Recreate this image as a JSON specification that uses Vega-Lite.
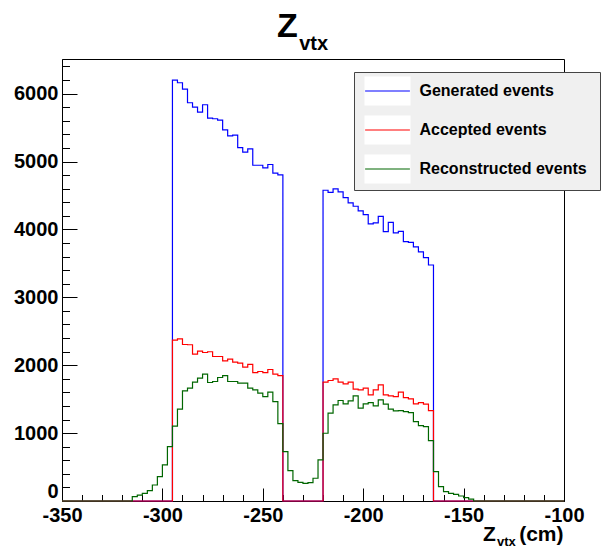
{
  "$schema": "https://vega.github.io/schema/vega-lite/v6.json",
  "width": 502,
  "height": 442,
  "autosize": {"type": "none"},
  "padding": {"left": 62, "top": 59, "right": 41, "bottom": 46},
  "background": "white",
  "title": {
    "text": "Z",
    "subtitle": "\u200b\u00a0\u00a0\u00a0\u00a0vtx",
    "anchor": "start",
    "frame": "group",
    "dx": 215,
    "offset": 5,
    "font": "Liberation Sans",
    "fontSize": 34,
    "fontWeight": "bold",
    "color": "black",
    "subtitleFont": "Liberation Sans",
    "subtitleFontSize": 20,
    "subtitleFontWeight": "bold",
    "subtitleColor": "black",
    "subtitlePadding": -10
  },
  "data": {
    "values": [
      {"x": -350, "g": 0, "a": 0, "r": 0},
      {"x": -347.5, "g": 0, "a": 0, "r": 0},
      {"x": -345, "g": 0, "a": 0, "r": 0},
      {"x": -342.5, "g": 0, "a": 0, "r": 0},
      {"x": -340, "g": 0, "a": 0, "r": 0},
      {"x": -337.5, "g": 0, "a": 0, "r": 0},
      {"x": -335, "g": 0, "a": 0, "r": 0},
      {"x": -332.5, "g": 0, "a": 0, "r": 0},
      {"x": -330, "g": 0, "a": 0, "r": 0},
      {"x": -327.5, "g": 0, "a": 0, "r": 0},
      {"x": -325, "g": 0, "a": 0, "r": 0},
      {"x": -322.5, "g": 0, "a": 0, "r": 0},
      {"x": -320, "g": 0, "a": 0, "r": 0},
      {"x": -317.5, "g": 0, "a": 0, "r": 0},
      {"x": -315, "g": 0, "a": 0, "r": 63},
      {"x": -312.5, "g": 0, "a": 0, "r": 88},
      {"x": -310, "g": 0, "a": 0, "r": 113},
      {"x": -307.5, "g": 0, "a": 0, "r": 152},
      {"x": -305, "g": 0, "a": 0, "r": 236},
      {"x": -302.5, "g": 0, "a": 0, "r": 359},
      {"x": -300, "g": 0, "a": 0, "r": 531},
      {"x": -297.5, "g": 0, "a": 0, "r": 801},
      {"x": -295, "g": 6199, "a": 2370, "r": 1102},
      {"x": -292.5, "g": 6160, "a": 2389, "r": 1352},
      {"x": -290, "g": 6066, "a": 2305, "r": 1622},
      {"x": -287.5, "g": 5866, "a": 2301, "r": 1662},
      {"x": -285, "g": 5801, "a": 2163, "r": 1751},
      {"x": -282.5, "g": 5727, "a": 2208, "r": 1810},
      {"x": -280, "g": 5836, "a": 2187, "r": 1869},
      {"x": -277.5, "g": 5639, "a": 2198, "r": 1745},
      {"x": -275, "g": 5630, "a": 2128, "r": 1760},
      {"x": -272.5, "g": 5609, "a": 2128, "r": 1819},
      {"x": -270, "g": 5467, "a": 2065, "r": 1848},
      {"x": -267.5, "g": 5379, "a": 2090, "r": 1760},
      {"x": -265, "g": 5388, "a": 2046, "r": 1760},
      {"x": -262.5, "g": 5206, "a": 2031, "r": 1736},
      {"x": -260, "g": 5137, "a": 1972, "r": 1736},
      {"x": -257.5, "g": 5187, "a": 2011, "r": 1662},
      {"x": -255, "g": 4945, "a": 1892, "r": 1637},
      {"x": -252.5, "g": 4945, "a": 1907, "r": 1588},
      {"x": -250, "g": 4907, "a": 1892, "r": 1538},
      {"x": -247.5, "g": 4956, "a": 1937, "r": 1603},
      {"x": -245, "g": 4828, "a": 1869, "r": 1465},
      {"x": -242.5, "g": 4804, "a": 1848, "r": 1140},
      {"x": -240, "g": 0, "a": 0, "r": 727},
      {"x": -237.5, "g": 0, "a": 0, "r": 447},
      {"x": -235, "g": 0, "a": 0, "r": 299},
      {"x": -232.5, "g": 0, "a": 0, "r": 275},
      {"x": -230, "g": 0, "a": 0, "r": 261},
      {"x": -227.5, "g": 0, "a": 0, "r": 270},
      {"x": -225, "g": 0, "a": 0, "r": 335},
      {"x": -222.5, "g": 0, "a": 0, "r": 605},
      {"x": -220, "g": 4577, "a": 1751, "r": 998},
      {"x": -217.5, "g": 4547, "a": 1775, "r": 1293},
      {"x": -215, "g": 4597, "a": 1800, "r": 1416},
      {"x": -212.5, "g": 4553, "a": 1751, "r": 1480},
      {"x": -210, "g": 4469, "a": 1726, "r": 1431},
      {"x": -207.5, "g": 4391, "a": 1751, "r": 1475},
      {"x": -205, "g": 4341, "a": 1647, "r": 1549},
      {"x": -202.5, "g": 4273, "a": 1637, "r": 1367},
      {"x": -200, "g": 4218, "a": 1662, "r": 1431},
      {"x": -197.5, "g": 4081, "a": 1563, "r": 1450},
      {"x": -195, "g": 4096, "a": 1637, "r": 1401},
      {"x": -192.5, "g": 4193, "a": 1711, "r": 1490},
      {"x": -190, "g": 3968, "a": 1563, "r": 1426},
      {"x": -187.5, "g": 4105, "a": 1549, "r": 1352},
      {"x": -185, "g": 3948, "a": 1538, "r": 1327},
      {"x": -182.5, "g": 3972, "a": 1603, "r": 1332},
      {"x": -180, "g": 3820, "a": 1524, "r": 1317},
      {"x": -177.5, "g": 3810, "a": 1504, "r": 1303},
      {"x": -175, "g": 3742, "a": 1431, "r": 1170},
      {"x": -172.5, "g": 3668, "a": 1450, "r": 1111},
      {"x": -170, "g": 3584, "a": 1426, "r": 1096},
      {"x": -167.5, "g": 3476, "a": 1332, "r": 889},
      {"x": -165, "g": 0, "a": 0, "r": 432},
      {"x": -162.5, "g": 0, "a": 0, "r": 211},
      {"x": -160, "g": 0, "a": 0, "r": 137},
      {"x": -157.5, "g": 0, "a": 0, "r": 113},
      {"x": -155, "g": 0, "a": 0, "r": 98},
      {"x": -152.5, "g": 0, "a": 0, "r": 74},
      {"x": -150, "g": 0, "a": 0, "r": 49},
      {"x": -147.5, "g": 0, "a": 0, "r": 29},
      {"x": -145, "g": 0, "a": 0, "r": 0},
      {"x": -142.5, "g": 0, "a": 0, "r": 0},
      {"x": -140, "g": 0, "a": 0, "r": 0},
      {"x": -137.5, "g": 0, "a": 0, "r": 0},
      {"x": -135, "g": 0, "a": 0, "r": 0},
      {"x": -132.5, "g": 0, "a": 0, "r": 0},
      {"x": -130, "g": 0, "a": 0, "r": 0},
      {"x": -127.5, "g": 0, "a": 0, "r": 0},
      {"x": -125, "g": 0, "a": 0, "r": 0},
      {"x": -122.5, "g": 0, "a": 0, "r": 0},
      {"x": -120, "g": 0, "a": 0, "r": 0},
      {"x": -117.5, "g": 0, "a": 0, "r": 0},
      {"x": -115, "g": 0, "a": 0, "r": 0},
      {"x": -112.5, "g": 0, "a": 0, "r": 0},
      {"x": -110, "g": 0, "a": 0, "r": 0},
      {"x": -107.5, "g": 0, "a": 0, "r": 0},
      {"x": -105, "g": 0, "a": 0, "r": 0},
      {"x": -102.5, "g": 0, "a": 0, "r": 0},
      {"x": -100, "g": 0, "a": 0, "r": 0}
    ]
  },
  "transform": [{"fold": ["g", "a", "r"], "as": ["s", "n"]}],
  "resolve": {"axis": {"x": "independent", "y": "independent"}},
  "layer": [
    {
      "mark": {"type": "point", "filled": true, "opacity": 0},
      "encoding": {
        "x": {
          "field": "x", "type": "quantitative",
          "scale": {"domain": [-350, -100], "nice": false, "zero": false},
          "axis": {
            "orient": "bottom",
            "values": [-340, -330, -320, -310, -290, -280, -270, -260, -240, -230, -220, -210, -190, -180, -170, -160, -140, -130, -120, -110],
            "tickSize": -6.5, "tickColor": "black", "tickWidth": 1,
            "labels": false, "domain": false, "grid": false,
            "title": "vtx",
            "titleFont": "Liberation Sans", "titleFontWeight": "bold", "titleFontSize": 13, "titleColor": "black",
            "titleAlign": "left", "titleBaseline": "alphabetic", "titleAngle": 0,
            "titleX": 434.5, "titleY": 44
          }
        },
        "y": {
          "field": "n", "type": "quantitative",
          "scale": {"domain": [0, 6510], "nice": false},
          "axis": {
            "orient": "left",
            "values": [200, 400, 600, 800, 1200, 1400, 1600, 1800, 2200, 2400, 2600, 2800, 3200, 3400, 3600, 3800, 4200, 4400, 4600, 4800, 5200, 5400, 5600, 5800, 6200, 6400],
            "tickSize": -7.5, "tickColor": "black", "tickWidth": 1,
            "labels": false, "domain": false, "grid": false, "title": null
          }
        },
        "color": {
          "field": "s", "type": "nominal",
          "scale": {"domain": ["g", "a", "r"], "range": ["white", "white", "white"]},
          "legend": {
            "orient": "none", "legendX": 292, "legendY": 13,
            "title": null, "padding": 4,
            "fillColor": "#f0f0f0", "strokeColor": "#444444",
            "symbolType": "M-1.6,-1H1.6V1H-1.6Z", "symbolSize": 784,
            "symbolOffset": 14.5, "symbolOpacity": 1, "symbolFillColor": "white",
            "symbolStrokeColor": "white", "symbolStrokeWidth": 1.2,
            "rowPadding": 5, "labelOffset": 17, "labelLimit": 400,
            "labelFont": "Liberation Sans", "labelFontWeight": "bold", "labelFontSize": 16, "labelColor": "black",
            "labelExpr": "(datum.label == 'g' ? 'Generated events' : datum.label == 'a' ? 'Accepted events' : 'Reconstructed events') + '\u00a0\u00a0\u200b'"
          }
        }
      }
    },
    {
      "mark": {"type": "line", "interpolate": "step-after", "strokeWidth": 1.2},
      "encoding": {
        "x": {
          "field": "x", "type": "quantitative",
          "axis": {
            "orient": "bottom",
            "values": [-350, -300, -250, -200, -150, -100],
            "labelExpr": "'' + datum.value",
            "tickSize": -13, "tickColor": "black", "tickWidth": 1,
            "labelFont": "Liberation Sans", "labelFontWeight": "bold", "labelFontSize": 20, "labelColor": "black",
            "labelPadding": 17, "labelFlush": false, "labelOverlap": false,
            "domainColor": "black", "grid": false,
            "title": "Z\u00a0\u00a0\u00a0\u00a0(cm)",
            "titleFont": "Liberation Sans", "titleFontWeight": "bold", "titleFontSize": 21, "titleColor": "black",
            "titleAlign": "right", "titleBaseline": "alphabetic", "titleAngle": 0,
            "titleX": 501, "titleY": 39
          }
        },
        "y": {
          "field": "n", "type": "quantitative",
          "axis": {
            "orient": "left",
            "values": [0, 1000, 2000, 3000, 4000, 5000, 6000],
            "labelExpr": "'' + datum.value",
            "tickSize": -15, "tickColor": "black", "tickWidth": 1,
            "labelFont": "Liberation Sans", "labelFontWeight": "bold", "labelFontSize": 20, "labelColor": "black",
            "labelPadding": 19, "labelFlush": true, "labelOverlap": false,
            "domainColor": "black", "grid": false, "title": null
          }
        },
        "stroke": {
          "field": "s", "type": "nominal",
          "sort": ["g", "a", "r"],
          "scale": {"range": ["#0000ff", "#ff0000", "#006600"]},
          "legend": {
            "orient": "none", "legendX": 292, "legendY": 13,
            "title": null, "padding": 4,
            "symbolType": "M-1.6,-1L-1.6,-1M-1.6,0H1.6M1.6,1L1.6,1", "symbolSize": 784,
            "symbolOffset": 14.5, "symbolOpacity": 1, "symbolFillColor": "transparent",
            "symbolStrokeWidth": 1.2,
            "rowPadding": 5, "labelOffset": 17, "labelLimit": 400,
            "labelFont": "Liberation Sans", "labelFontWeight": "bold", "labelFontSize": 16, "labelColor": "transparent",
            "labelExpr": "(datum.label == 'g' ? 'Generated events' : datum.label == 'a' ? 'Accepted events' : 'Reconstructed events') + '\u00a0\u00a0\u200b'"
          }
        }
      }
    }
  ],
  "config": {
    "view": {"stroke": "black", "strokeWidth": 1},
    "axis": {"domainColor": "black", "tickColor": "black"}
  }
}
